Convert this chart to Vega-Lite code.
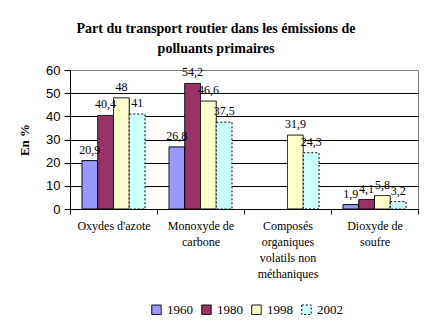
{
  "$schema": "https://vega.github.io/schema/vega-lite/v6.json",
  "autosize": "none",
  "width": 348,
  "height": 139,
  "padding": {"left": 70, "top": 70, "right": 14, "bottom": 120},
  "background": "white",
  "title": {
    "text": ["Part du transport routier dans les émissions de", "polluants primaires"],
    "font": "'Liberation Serif', 'Times New Roman', serif",
    "fontSize": 14,
    "fontWeight": "bold",
    "color": "black",
    "anchor": "middle",
    "frame": "group",
    "dx": -28,
    "offset": 8,
    "lineHeight": 20
  },
  "config": {
    "locale": {"number": {"decimal": ",", "thousands": " ", "grouping": [3], "currency": ["", " €"]}},
    "view": {"stroke": "#808080", "strokeWidth": 1}
  },
  "data": {
    "values": [
      {"cat": "Oxydes d'azote", "year": "1960", "v": 20.9},
      {"cat": "Oxydes d'azote", "year": "1980", "v": 40.4},
      {"cat": "Oxydes d'azote", "year": "1998", "v": 48},
      {"cat": "Oxydes d'azote", "year": "2002", "v": 41},
      {"cat": "Monoxyde de carbone", "year": "1960", "v": 26.8},
      {"cat": "Monoxyde de carbone", "year": "1980", "v": 54.2},
      {"cat": "Monoxyde de carbone", "year": "1998", "v": 46.6},
      {"cat": "Monoxyde de carbone", "year": "2002", "v": 37.5},
      {"cat": "Composés organiques volatils non méthaniques", "year": "1960", "v": null},
      {"cat": "Composés organiques volatils non méthaniques", "year": "1980", "v": null},
      {"cat": "Composés organiques volatils non méthaniques", "year": "1998", "v": 31.9},
      {"cat": "Composés organiques volatils non méthaniques", "year": "2002", "v": 24.3},
      {"cat": "Dioxyde de soufre", "year": "1960", "v": 1.9},
      {"cat": "Dioxyde de soufre", "year": "1980", "v": 4.1},
      {"cat": "Dioxyde de soufre", "year": "1998", "v": 5.8},
      {"cat": "Dioxyde de soufre", "year": "2002", "v": 3.2}
    ]
  },
  "encoding": {
    "x": {
      "field": "cat",
      "type": "nominal",
      "sort": null,
      "scale": {"paddingInner": 0, "paddingOuter": 0},
      "axis": {
        "title": null,
        "labelAngle": 0,
        "labelFont": "'Liberation Serif', 'Times New Roman', serif",
        "labelFontSize": 12,
        "labelColor": "black",
        "labelLineHeight": 16,
        "labelBaseline": "top",
        "labelPadding": 6,
        "labelExpr": "datum.value == 'Monoxyde de carbone' ? ['Monoxyde de', 'carbone'] : datum.value == 'Dioxyde de soufre' ? ['Dioxyde de', 'soufre'] : datum.value == 'Composés organiques volatils non méthaniques' ? ['Composés', 'organiques', 'volatils non', 'méthaniques'] : datum.value",
        "tickBand": "extent",
        "tickSize": 5,
        "tickColor": "black",
        "domainColor": "black",
        "grid": false
      }
    },
    "xOffset": {"field": "year", "type": "nominal", "scale": {"paddingInner": 0, "paddingOuter": 0.76}},
    "y": {
      "field": "v",
      "type": "quantitative",
      "scale": {"domain": [0, 60], "nice": false},
      "axis": {
        "title": "En %",
        "titleFont": "'Liberation Serif', 'Times New Roman', serif",
        "titleFontSize": 13,
        "titleFontWeight": "bold",
        "titleColor": "black",
        "titlePadding": 14,
        "values": [0, 10, 20, 30, 40, 50, 60],
        "labelFont": "'Liberation Sans', Arial, sans-serif",
        "labelFontSize": 13,
        "labelColor": "black",
        "labelPadding": 4,
        "tickSize": 6,
        "tickColor": "black",
        "domainColor": "black",
        "grid": true,
        "gridColor": {"condition": {"test": "datum.value == 60", "value": "#808080"}, "value": "black"},
        "gridOpacity": 1
      }
    }
  },
  "layer": [
    {
      "mark": {"type": "bar", "stroke": "black", "strokeWidth": 1},
      "encoding": {
        "color": {
          "field": "year",
          "type": "nominal",
          "scale": {"domain": ["1960", "1980", "1998", "2002"], "range": ["#9999FF", "#993366", "#FFFFCC", "#CCFFFF"]},
          "legend": {
            "title": null,
            "orient": "none",
            "direction": "horizontal",
            "legendX": 80,
            "legendY": 233,
            "columns": 4,
            "columnPadding": 6,
            "symbolType": "square",
            "symbolSize": 90,
            "symbolStrokeColor": "black",
            "symbolStrokeWidth": 1,
            "symbolOffset": 0,
            "labelOffset": 4,
            "labelFont": "'Liberation Serif', 'Times New Roman', serif",
            "labelFontSize": 13,
            "labelColor": "black"
          }
        },
        "strokeDash": {
          "field": "year",
          "type": "nominal",
          "scale": {"domain": ["1960", "1980", "1998", "2002"], "range": [[1, 0], [1, 0], [1, 0], [2, 2]]}
        }
      }
    },
    {
      "mark": {"type": "text", "baseline": "bottom", "dy": -4, "font": "'Liberation Serif', 'Times New Roman', serif", "fontSize": 12, "color": "black"},
      "encoding": {
        "text": {"field": "v", "type": "quantitative", "format": "~g"}
      }
    }
  ]
}
